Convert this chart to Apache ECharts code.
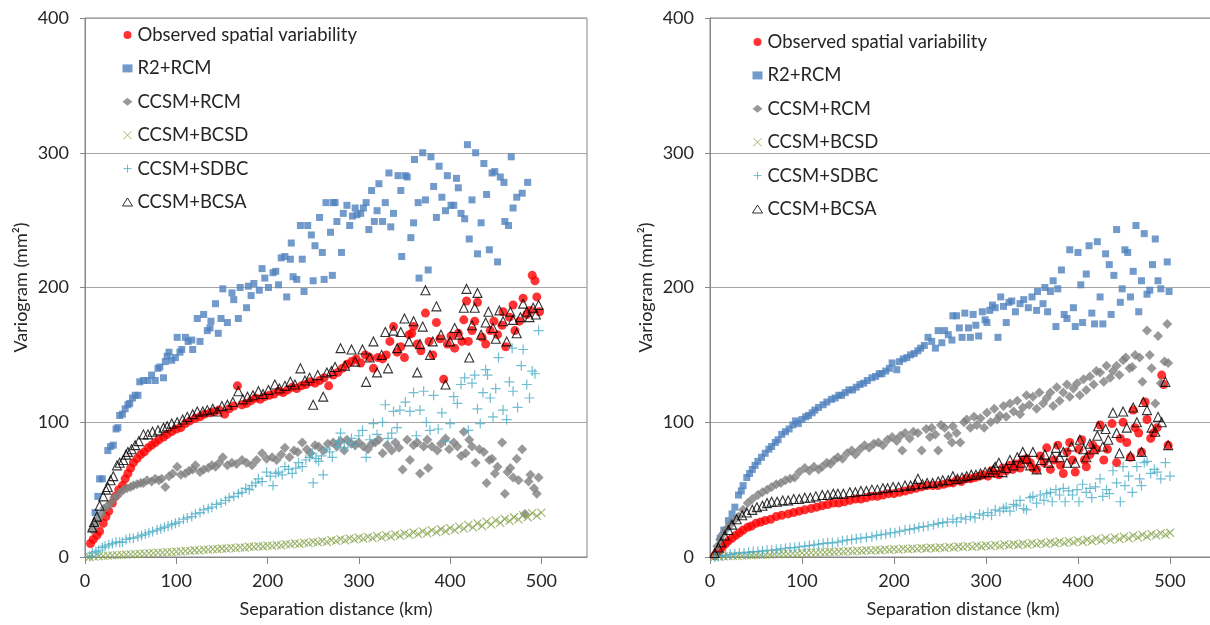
<!DOCTYPE html>
<html>
<head>
<meta charset="utf-8">
<script src="https://cdn.jsdelivr.net/npm/echarts@6/dist/echarts.min.js"></script>
<style>html,body{margin:0;padding:0;background:#fff}#c{width:1210px;height:625px}</style>
</head>
<body>
<div id="c"></div>
<script>
// ---------- tick labels / names ----------
const seriesNames = ['Observed spatial variability','R2+RCM','CCSM+RCM','CCSM+BCSD','CCSM+SDBC','CCSM+BCSA'];
const xTitle = 'Separation distance (km)';
const yTitle = 'Variogram (mm\u00b2)';
const xRange = [0, 550, 100];
const yRange = [0, 400, 100];

// ---------- LEFT PANEL DATA [distance km, variogram mm2] ----------
const leftObs = [[6,10],[9,13],[13,16],[16,19],[20,25],[23,30],[26,34],[30,40],[33,45],[37,50],[41,53],[44,58],[47,62],[50,66],[53,70],[57,73],[61,76],[65,78],[69,81],[73,83],[77,85],[81,87],[86,89],[90,91],[95,93],[100,95],[105,96],[110,99],[115,101],[121,103],[126,104],[131,106],[137,107],[142,108],[147,109],[153,106],[158,110],[163,112],[167,127],[172,113],[177,114],[182,116],[187,118],[192,117],[197,119],[202,120],[207,121],[212,123],[217,122],[222,124],[227,126],[232,125],[237,127],[242,128],[247,130],[252,129],[257,131],[262,133],[267,127],[272,135],[277,137],[282,140],[287,143],[292,145],[297,147],[302,144],[307,150],[312,148],[316,140],[321,148],[326,147],[330,150],[334,160],[338,171],[342,152],[346,156],[350,148],[355,165],[358,166],[360,171],[364,158],[368,153],[373,181],[377,160],[381,150],[385,174],[389,162],[393,132],[397,158],[401,164],[405,155],[409,166],[413,160],[415,176],[418,190],[420,160],[424,168],[427,175],[430,189],[435,163],[439,158],[444,168],[448,175],[452,165],[457,172],[458,182],[461,156],[465,178],[469,187],[471,168],[476,175],[480,192],[484,180],[488,183],[490,209],[493,205],[495,193],[498,182]];
const leftR2 = [[11,33],[14,45],[16,58],[19,58],[25,79],[28,82],[31,83],[34,95],[36,96],[38,105],[41,106],[44,110],[47,113],[49,114],[52,118],[55,120],[58,120],[60,130],[64,131],[69,131],[73,135],[77,131],[80,140],[82,141],[86,133],[88,145],[90,149],[92,152],[95,146],[99,148],[101,163],[104,152],[106,154],[110,163],[113,160],[117,161],[118,154],[123,177],[126,160],[130,180],[134,168],[137,170],[138,175],[143,188],[146,166],[149,177],[151,199],[156,174],[161,196],[163,191],[168,177],[170,200],[177,185],[179,201],[182,194],[185,203],[191,198],[194,214],[197,207],[201,200],[206,211],[209,212],[212,202],[215,222],[219,223],[221,193],[225,221],[226,233],[228,208],[232,206],[236,246],[238,221],[240,197],[244,246],[248,239],[250,205],[252,231],[257,252],[260,226],[262,206],[264,263],[269,241],[271,209],[272,263],[274,263],[276,249],[281,226],[283,255],[287,261],[290,246],[293,253],[296,259],[298,254],[302,255],[305,259],[308,263],[311,243],[314,272],[317,249],[320,257],[322,277],[326,249],[329,263],[333,285],[335,245],[338,255],[343,283],[346,272],[347,223],[351,283],[353,282],[357,237],[360,248],[361,295],[365,263],[366,207],[370,300],[373,265],[376,213],[379,297],[382,275],[385,252],[388,290],[391,267],[395,257],[397,283],[401,261],[404,261],[407,281],[409,274],[412,255],[416,251],[419,306],[421,236],[424,265],[428,300],[430,225],[434,248],[437,292],[440,269],[443,228],[446,285],[449,286],[452,219],[455,282],[459,278],[460,249],[464,246],[467,297],[469,259],[473,267],[479,270],[485,278]];
const leftRcm = [[8,20],[11,24],[14,28],[18,32],[21,36],[25,38],[28,40],[32,44],[35,45],[39,48],[42,50],[46,51],[50,52],[53,53],[57,54],[61,55],[64,55],[68,57],[73,56],[77,58],[81,57],[84,58],[88,52],[92,60],[96,62],[101,67],[105,61],[110,62],[114,64],[118,65],[121,68],[126,63],[130,65],[135,66],[139,68],[143,67],[147,70],[151,74],[156,68],[161,70],[166,69],[172,72],[177,70],[183,68],[188,72],[194,77],[199,73],[205,74],[210,72],[215,76],[219,81],[224,74],[229,79],[233,78],[238,85],[243,80],[247,77],[252,83],[256,82],[261,79],[266,84],[272,85],[276,82],[280,86],[284,79],[287,87],[292,84],[296,83],[300,85],[305,82],[310,80],[314,84],[318,85],[322,87],[326,77],[331,83],[336,79],[340,85],[344,81],[348,65],[353,87],[356,72],[360,83],[364,85],[367,62],[371,82],[375,87],[376,66],[380,82],[386,79],[390,84],[395,88],[399,80],[404,85],[408,82],[412,75],[415,93],[417,77],[421,87],[424,82],[428,70],[432,80],[437,78],[440,55],[443,72],[446,73],[449,62],[452,67],[457,85],[460,47],[463,63],[466,66],[469,59],[473,73],[475,57],[479,80],[482,32],[486,56],[488,61],[492,51],[495,47],[497,59]];
const leftBcsd = [[5,0],[10,0.3],[15,0.6],[20,0.8],[25,1],[30,1.2],[35,1.4],[40,1.6],[45,1.8],[50,2],[55,2.2],[60,2.3],[65,2.5],[70,2.8],[75,2.9],[80,3.2],[85,3.3],[90,3.6],[95,3.7],[100,4],[105,4.1],[110,4.5],[115,4.5],[120,5],[125,4.9],[130,5.4],[135,5.4],[140,5.9],[145,5.8],[150,6.3],[155,6.2],[160,6.8],[165,6.6],[170,7.2],[175,7],[180,7.6],[185,7.5],[190,8],[195,7.8],[200,8.5],[205,8.3],[210,9],[215,8.7],[220,9.6],[225,9.3],[230,10.1],[235,9.8],[240,10.7],[245,10.3],[250,11.2],[255,10.8],[260,11.8],[265,11.3],[270,12.5],[275,11.9],[280,13.2],[285,12.4],[290,13.8],[295,13],[300,14.3],[305,13.6],[310,15],[315,14],[320,15.6],[325,14.6],[330,16.2],[335,15.2],[340,16.8],[345,15.8],[350,17.5],[355,16.4],[360,18.2],[365,17],[370,19],[375,17.6],[380,19.8],[385,18.4],[390,20.6],[395,19.2],[400,21.5],[405,20],[410,22.5],[415,21],[420,23.8],[425,22],[430,25],[435,23],[440,26.2],[445,24.2],[450,27.2],[455,25.4],[460,28.2],[465,26.8],[470,29.5],[475,28],[480,31],[485,29.5],[490,32.5],[495,30.5],[500,33]];
const leftSdbc = [[5,0.5],[8,3],[12,4],[15,5],[19,7],[22,8],[26,9],[30,10],[34,11],[38,11],[41,11],[45,13],[49,14],[53,14],[58,15],[62,16],[66,17],[70,18],[74,19],[79,20],[83,21],[87,22],[91,23],[95,24],[99,25],[103,26],[108,28],[112,29],[117,30],[121,32],[126,33],[130,35],[135,36],[139,37],[144,39],[149,40],[154,42],[158,44],[163,45],[168,47],[172,48],[176,51],[180,50],[183,53],[187,55],[190,58],[194,56],[199,63],[203,60],[206,53],[209,62],[212,63],[216,61],[219,67],[223,65],[227,62],[231,66],[234,70],[238,67],[242,72],[246,74],[249,77],[250,55],[253,73],[256,71],[259,75],[261,61],[264,80],[268,78],[271,74],[275,82],[278,86],[280,92],[284,81],[288,85],[292,88],[296,83],[300,90],[304,94],[308,74],[312,87],[316,99],[320,91],[326,100],[329,113],[332,88],[336,92],[338,108],[342,96],[345,109],[351,115],[356,108],[360,122],[363,90],[367,109],[371,123],[374,100],[378,94],[382,120],[387,95],[391,107],[395,86],[400,99],[404,119],[408,114],[412,128],[416,133],[420,94],[424,129],[427,135],[430,110],[433,99],[436,122],[439,139],[441,135],[444,118],[447,104],[450,125],[453,148],[458,109],[462,102],[465,130],[468,155],[469,123],[474,111],[478,142],[480,154],[484,128],[487,118],[490,138],[493,136],[497,168]];
const leftBcsa = [[8,22],[10,26],[13,30],[16,38],[20,45],[23,50],[25,52],[28,57],[31,60],[35,68],[38,70],[42,72],[45,76],[47,78],[51,80],[55,83],[59,86],[64,91],[69,91],[74,93],[80,94],[86,96],[90,97],[95,99],[101,100],[107,102],[112,104],[118,106],[123,108],[129,108],[134,109],[140,110],[145,108],[150,112],[156,113],[162,115],[168,123],[173,117],[178,119],[184,120],[190,123],[195,121],[201,124],[208,128],[213,125],[219,127],[225,130],[230,128],[236,140],[241,131],[246,133],[250,113],[255,135],[261,119],[265,137],[270,138],[274,141],[280,155],[285,142],[292,154],[296,145],[304,154],[308,130],[312,148],[316,160],[320,137],[325,150],[329,167],[332,140],[338,168],[342,155],[346,167],[350,177],[355,160],[360,175],[364,137],[367,158],[370,171],[373,198],[378,150],[381,160],[385,186],[390,165],[395,128],[400,160],[405,170],[410,165],[415,185],[418,199],[421,148],[424,172],[427,185],[430,196],[434,165],[439,174],[442,182],[447,170],[450,162],[454,183],[458,175],[462,160],[466,182],[469,176],[473,166],[477,178],[480,188],[484,182],[487,178],[491,185],[494,180],[497,187]];

// ---------- RIGHT PANEL DATA ----------
const rightObs = [[5,1],[8,3],[11,5],[14,8],[17,10],[20,12],[24,14],[28,16],[32,18],[36,20],[41,22],[45,23],[50,25],[55,26],[60,27],[66,28],[72,30],[78,31],[85,32],[91,33],[97,34],[103,35],[110,36],[116,37],[122,38],[128,39],[134,40],[140,40],[146,41],[152,42],[158,43],[164,43],[170,44],[176,45],[182,45],[188,46],[194,47],[200,47],[206,48],[212,49],[218,50],[224,51],[230,52],[236,53],[242,53],[248,53],[254,54],[259,55],[264,55],[268,57],[273,56],[278,58],[283,58],[288,59],[293,60],[297,61],[302,60],[306,64],[310,62],[314,61],[318,66],[322,64],[326,68],[329,65],[333,69],[337,66],[340,72],[344,73],[348,70],[351,66],[355,65],[359,75],[363,70],[366,81],[370,65],[374,72],[378,83],[381,68],[384,62],[388,78],[391,85],[394,72],[397,63],[401,80],[404,87],[407,72],[409,67],[413,76],[416,83],[420,80],[424,98],[428,72],[432,80],[437,99],[442,70],[446,88],[449,100],[453,85],[457,74],[460,109],[462,96],[466,92],[469,78],[473,115],[475,102],[479,88],[482,92],[486,96],[491,135],[493,128],[498,83]];
const rightR2 = [[11,14],[15,20],[20,27],[24,32],[27,37],[31,46],[34,49],[36,53],[40,59],[43,62],[46,65],[49,68],[52,71],[56,74],[60,77],[64,80],[67,82],[71,85],[74,87],[78,91],[82,93],[86,95],[90,98],[93,101],[96,99],[100,102],[104,104],[107,105],[111,107],[114,109],[118,111],[123,113],[127,115],[132,117],[136,118],[140,120],[143,120],[147,122],[151,124],[155,124],[159,126],[163,128],[167,129],[171,131],[176,133],[180,134],[184,136],[187,136],[191,138],[195,140],[198,144],[203,139],[206,145],[210,147],[214,148],[218,150],[222,151],[226,153],[229,155],[233,157],[237,163],[241,160],[245,155],[248,168],[252,159],[255,168],[259,165],[263,161],[264,179],[268,179],[271,170],[274,163],[277,181],[281,170],[283,163],[286,180],[289,172],[292,164],[296,182],[299,176],[301,174],[304,183],[307,187],[310,185],[313,163],[316,193],[319,186],[322,174],[325,189],[328,190],[332,182],[337,188],[341,191],[346,185],[350,193],[355,183],[356,197],[362,188],[364,200],[367,182],[370,197],[373,205],[376,171],[378,199],[382,213],[385,180],[388,177],[391,228],[395,185],[397,171],[400,226],[403,202],[405,174],[409,210],[412,231],[415,181],[418,173],[421,234],[424,193],[427,173],[430,225],[434,217],[436,180],[439,209],[442,243],[446,189],[448,199],[451,228],[454,226],[457,193],[460,212],[463,246],[466,182],[469,205],[472,240],[475,195],[478,198],[481,217],[484,236],[487,205],[490,199],[497,219],[499,197]];
const rightRcm = [[8,8],[11,13],[14,17],[18,21],[22,24],[26,27],[31,30],[36,35],[41,40],[46,43],[52,46],[57,48],[62,50],[67,52],[72,54],[77,55],[82,57],[87,58],[92,59],[97,63],[103,66],[108,64],[113,67],[118,65],[122,67],[127,70],[131,69],[135,72],[139,74],[144,73],[149,77],[154,79],[158,76],[163,80],[168,83],[173,81],[178,84],[183,85],[188,83],[193,87],[198,89],[203,86],[207,90],[209,79],[212,92],[217,88],[221,93],[226,92],[230,79],[235,95],[239,89],[241,96],[245,91],[248,79],[251,98],[255,96],[259,90],[263,85],[264,97],[268,92],[272,85],[276,100],[279,102],[283,96],[287,104],[290,98],[294,103],[298,96],[301,107],[305,100],[309,110],[312,102],[315,105],[319,112],[322,104],[326,114],[330,108],[334,116],[337,106],[340,111],[344,120],[347,113],[351,119],[355,110],[358,122],[362,114],[366,118],[370,122],[373,112],[377,126],[380,116],[384,122],[388,128],[391,119],[395,125],[399,129],[402,120],[406,132],[409,124],[413,134],[417,128],[420,138],[424,137],[428,130],[431,142],[435,133],[438,138],[442,142],[445,135],[449,146],[452,148],[456,140],[459,141],[462,150],[467,148],[470,130],[475,168],[478,150],[480,140],[484,114],[487,164],[490,129],[494,145],[497,173],[498,144]];
const rightBcsd = [[5,0],[10,0.2],[15,0.4],[20,0.6],[25,0.7],[30,0.9],[35,1],[40,1.2],[45,1.3],[50,1.5],[55,1.6],[60,1.8],[65,1.8],[70,2.1],[75,2.1],[80,2.4],[85,2.4],[90,2.7],[95,2.7],[100,3],[105,3],[110,3.3],[115,3.2],[120,3.6],[125,3.5],[130,3.9],[135,3.7],[140,4.2],[145,4],[150,4.5],[155,4.2],[160,4.8],[165,4.5],[170,5.1],[175,4.8],[180,5.3],[185,5],[190,5.6],[195,5.3],[200,5.9],[205,5.5],[210,6.2],[215,5.8],[220,6.4],[225,6],[230,6.7],[235,6.3],[240,7],[245,6.5],[250,7.2],[255,6.8],[260,7.5],[265,7],[270,7.8],[275,7.3],[280,8.1],[285,7.5],[290,8.4],[295,7.8],[300,8.7],[305,8.1],[310,9],[315,8.3],[320,9.3],[325,8.6],[330,9.6],[335,8.9],[340,9.9],[345,9.2],[350,10.3],[355,9.5],[360,10.7],[365,9.8],[370,11],[375,10.2],[380,11.4],[385,10.5],[390,11.8],[395,10.9],[400,12.3],[405,11.3],[410,12.8],[415,11.7],[420,13.4],[425,12.2],[430,14],[435,12.7],[440,14.6],[445,13.3],[450,15.2],[455,13.9],[460,15.8],[465,14.5],[470,16.4],[475,15.2],[480,17],[485,16],[490,17.6],[495,16.6],[500,18]];
const rightSdbc = [[5,0],[9,0.5],[13,1],[17,1.5],[22,2],[27,2.5],[32,3],[37,3],[42,3.5],[47,4],[52,4],[57,4.5],[62,5],[67,5],[72,5.5],[77,6],[82,6.5],[87,7],[92,7],[97,7.5],[103,8],[108,8.5],[113,9],[118,9.5],[123,10],[128,10.5],[133,10.5],[139,11],[144,12],[149,12.5],[154,13],[159,13.5],[164,14],[170,14.5],[176,15],[181,16],[186,16.5],[191,17],[196,18],[201,18],[206,19],[212,20],[217,20.5],[222,21],[227,22],[232,22.5],[237,23],[243,24],[248,25],[253,25.5],[258,26],[264,28],[268,26],[273,29],[278,28],[283,30],[288,29],[293,32],[297,31],[302,33],[306,31],[310,35],[315,34],[319,36],[322,37],[326,34],[330,39],[333,38],[337,42],[341,36],[344,35],[348,44],[351,45],[355,40],[359,46],[363,42],[366,47],[370,48],[372,41],[376,50],[380,46],[384,51],[386,41],[390,49],[394,46],[399,50],[401,41],[405,54],[409,48],[413,51],[415,44],[419,52],[424,58],[427,45],[431,50],[434,47],[438,64],[442,55],[446,41],[449,67],[451,53],[455,60],[459,48],[464,67],[467,58],[469,53],[472,70],[475,71],[479,62],[483,65],[486,63],[490,58],[495,70],[500,60]];
const rightBcsa = [[5,3],[9,7],[12,11],[16,16],[20,20],[24,24],[29,28],[35,31],[40,33],[46,35],[51,37],[57,38],[62,40],[67,41],[73,41],[79,42],[85,42],[91,43],[97,43],[103,44],[109,44],[115,45],[122,46],[128,46],[134,47],[139,47],[145,47],[152,48],[158,48],[164,49],[170,49],[176,50],[182,50],[188,51],[193,51],[199,52],[205,52],[212,53],[218,53],[223,54],[226,58],[231,54],[236,55],[242,55],[248,56],[253,57],[259,57],[264,60],[269,58],[274,59],[279,60],[284,61],[289,61],[294,62],[299,63],[304,63],[308,65],[310,67],[314,70],[318,63],[322,66],[326,72],[330,68],[334,74],[338,70],[340,78],[344,73],[348,68],[351,78],[355,65],[360,72],[364,76],[368,70],[372,74],[376,81],[380,74],[384,78],[388,70],[393,82],[397,70],[402,87],[406,80],[409,74],[413,84],[417,80],[421,90],[422,97],[427,82],[430,95],[433,87],[438,107],[442,92],[445,77],[449,108],[453,96],[457,75],[460,111],[464,100],[469,78],[471,115],[475,109],[480,96],[484,93],[487,104],[491,100],[495,130],[498,83]];

const leftData = [leftObs, leftR2, leftRcm, leftBcsd, leftSdbc, leftBcsa];
const rightData = [rightObs, rightR2, rightRcm, rightBcsd, rightSdbc, rightBcsa];

// ---------- styles ----------
const FONT = 'Lato';
const TXT = '#262626';
const AXC = '#868686';
const styles = [
  {symbol:'circle', symbolSize:9, itemStyle:{color:'#ff0000'}},
  {symbol:'rect', symbolSize:7, itemStyle:{color:'#4f81bd'}},
  {symbol:'diamond', symbolSize:10, itemStyle:{color:'#7f7f7f'}},
  {symbol:'path://M0,0L10,10M10,0L0,10', symbolSize:8, itemStyle:{color:'rgba(0,0,0,0)', borderColor:'#86a34a', borderWidth:1.1}},
  {symbol:'path://M5,0L5,10M0,5L10,5', symbolSize:10, itemStyle:{color:'rgba(0,0,0,0)', borderColor:'#4bacc6', borderWidth:1.2}},
  {symbol:'triangle', symbolSize:9, itemStyle:{color:'rgba(255,255,255,0)', borderColor:'#000000', borderWidth:1.1}}
];

function makeX(i){
  return {gridIndex:i, type:'value', min:xRange[0], max:xRange[1], interval:xRange[2],
    name:xTitle, nameLocation:'middle', nameGap:43, nameMoveOverlap:false,
    nameTextStyle:{fontFamily:FONT, fontSize:18, color:TXT},
    axisLine:{show:true, lineStyle:{color:AXC, width:1}},
    axisTick:{show:true, inside:false, length:7, lineStyle:{color:AXC}},
    axisLabel:{fontFamily:FONT, fontSize:18, color:TXT, margin:15, showMaxLabel:false},
    splitLine:{show:false}};
}
function makeY(i){
  return {gridIndex:i, type:'value', min:yRange[0], max:yRange[1], interval:yRange[2],
    name:yTitle, nameLocation:'middle', nameRotate:90, nameGap:55, nameMoveOverlap:false,
    nameTextStyle:{fontFamily:FONT, fontSize:18, color:TXT},
    axisLine:{show:true, lineStyle:{color:AXC, width:1}},
    axisTick:{show:true, inside:false, length:5, lineStyle:{color:AXC}},
    axisLabel:{fontFamily:FONT, fontSize:18, color:TXT, margin:16},
    splitLine:{show:true, lineStyle:{color:'#a6a6a6', width:1}}};
}
function makeLegend(left, top){
  return {orient:'vertical', left:left, top:top, padding:0, itemWidth:10, itemHeight:8, itemGap:13.4,
    data:seriesNames,
    textStyle:{fontFamily:FONT, fontSize:18.5, color:TXT, lineHeight:20},
    itemStyle:{borderWidth:1}, selectedMode:false};
}
const series = [];
[leftData, rightData].forEach((panel, pi) => {
  panel.forEach((d, si) => {
    series.push(Object.assign({type:'scatter', name:seriesNames[si], xAxisIndex:pi, yAxisIndex:pi,
      data:d, animation:false, emphasis:{disabled:true}, z:2+si}, JSON.parse(JSON.stringify(styles[si]))));
  });
});

const chart = echarts.init(document.getElementById('c'), null, {renderer:'canvas'});
chart.setOption({
  backgroundColor:'#ffffff',
  animation:false,
  grid:[
    {left:85, top:18, width:502, height:539, show:true, borderColor:AXC, borderWidth:1, containLabel:false, outerBoundsMode:'none'},
    {left:710, top:18, width:506, height:539, show:true, borderColor:AXC, borderWidth:1, containLabel:false, outerBoundsMode:'none'}
  ],
  xAxis:[makeX(0), makeX(1)],
  yAxis:[makeY(0), makeY(1)],
  legend:[makeLegend(122, 25), makeLegend(752, 32)],
  series:series
});
</script>
</body>
</html>
